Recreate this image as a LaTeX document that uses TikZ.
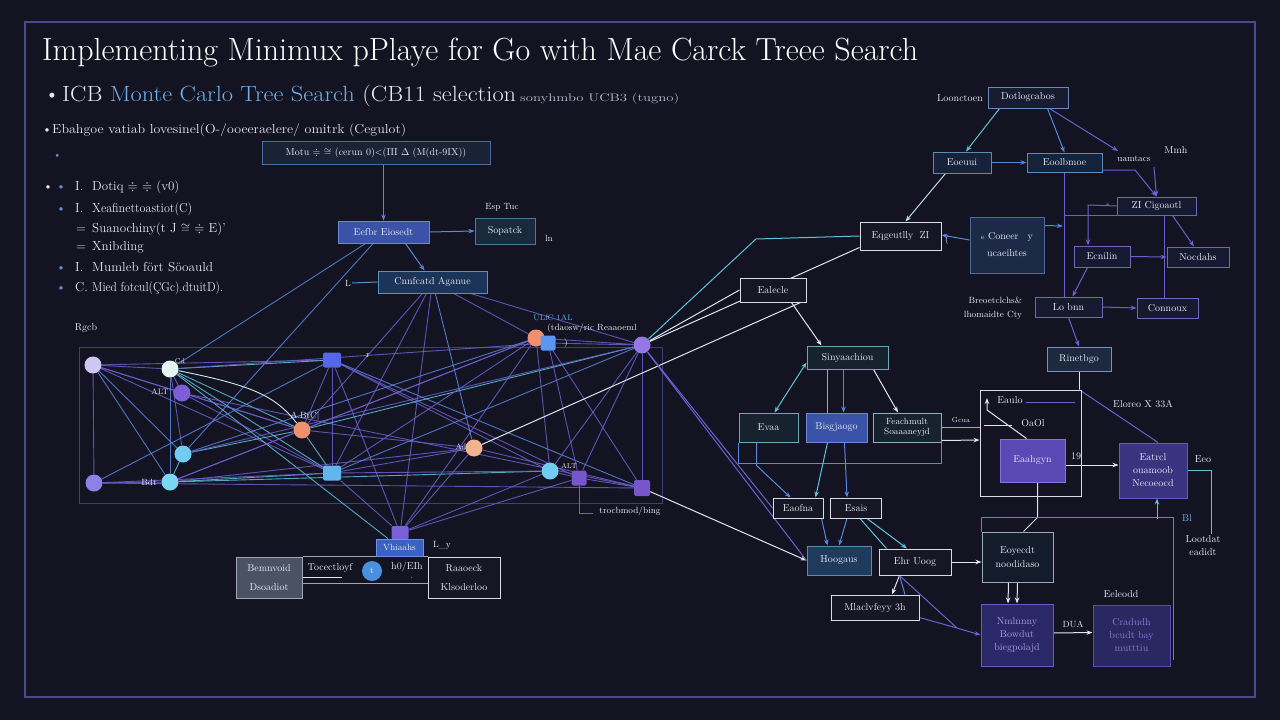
\documentclass[tikz,border=0pt]{standalone}
\usepackage{amssymb}
\usepackage{fontspec}
\usetikzlibrary{arrows.meta,calc}
\pgfdeclarelayer{back}
\pgfdeclarelayer{edges}
\pgfsetlayers{back,edges,main}
\definecolor{bg}{HTML}{131322}
\definecolor{frame}{HTML}{4A4A8C}
\definecolor{cTx}{HTML}{E6E8F0}
\definecolor{cTitleB}{HTML}{6FB0E8}
\definecolor{cGrT}{HTML}{B8BCCC}
\definecolor{cPl}{HTML}{6E5FD0}
\definecolor{cBl}{HTML}{5A86E0}
\definecolor{cCy}{HTML}{5CC4DA}
\definecolor{cWh}{HTML}{DDE8F0}
\definecolor{cGr}{HTML}{A0A6B4}
\definecolor{cDot}{HTML}{6A8AD0}
\definecolor{cTeal}{HTML}{5A8AA8}
% node colours
\definecolor{nA}{HTML}{CFC6F2}
\definecolor{nB}{HTML}{E4F7EE}
\definecolor{nC}{HTML}{7A5FD6}
\definecolor{nD}{HTML}{5666E6}
\definecolor{nE}{HTML}{F0906E}
\definecolor{nF}{HTML}{72CBF0}
\definecolor{nG}{HTML}{7AD6F2}
\definecolor{nH}{HTML}{8C82E6}
\definecolor{nI}{HTML}{62B6F0}
\definecolor{nJ}{HTML}{F2B48E}
\definecolor{nL}{HTML}{5A96F2}
\definecolor{nM}{HTML}{9478E6}
\definecolor{nO}{HTML}{7656C8}
% box colours
\definecolor{dk}{HTML}{161624}
\definecolor{motuD}{HTML}{4C6C9C}\definecolor{motuF}{HTML}{1A2236}
\definecolor{eefD}{HTML}{6C86E0}\definecolor{eefF}{HTML}{3A52A8}
\definecolor{sopD}{HTML}{4A7A9A}\definecolor{sopF}{HTML}{182A3C}
\definecolor{cnnD}{HTML}{5A90C8}\definecolor{cnnF}{HTML}{1C3458}
\definecolor{vhiD}{HTML}{6A90E8}\definecolor{vhiF}{HTML}{3A62C4}
\definecolor{bemD}{HTML}{A0A6B4}\definecolor{bemF}{HTML}{4A5264}
\definecolor{whD}{HTML}{D8DCE4}
\definecolor{dotD}{HTML}{6A8AB8}\definecolor{dotF}{HTML}{181C30}
\definecolor{eoeD}{HTML}{5A8AB8}\definecolor{eoeF}{HTML}{16223A}
\definecolor{vioD}{HTML}{6A6AB8}\definecolor{vioF}{HTML}{161A30}
\definecolor{conD}{HTML}{4A6A9A}\definecolor{conF}{HTML}{1C2A48}
\definecolor{rinD}{HTML}{6A9AB8}\definecolor{rinF}{HTML}{1C2A40}
\definecolor{sinD}{HTML}{6AAAB8}\definecolor{sinF}{HTML}{16222E}
\definecolor{feaD}{HTML}{8AB0B8}
\definecolor{hooD}{HTML}{5A8AB8}\definecolor{hooF}{HTML}{1E3A5C}
\definecolor{eoyD}{HTML}{9AAAB8}\definecolor{eoyF}{HTML}{141C2C}
\definecolor{nmlD}{HTML}{6A58C8}\definecolor{nmlF}{HTML}{2A2866}\definecolor{nmlT}{HTML}{A89EE8}
\definecolor{craD}{HTML}{5A4AB8}\definecolor{craF}{HTML}{2A2860}\definecolor{craT}{HTML}{8A7AE0}
\definecolor{eahD}{HTML}{8A70E0}\definecolor{eahF}{HTML}{5A48B4}
\definecolor{eatD}{HTML}{6A58C8}\definecolor{eatF}{HTML}{3A3480}
\definecolor{circB}{HTML}{4A90E0}
\newcommand{\fitw}[2]{\resizebox{#1}{\height}{#2}}
\begin{document}
\begin{tikzpicture}[x=1pt,y=-1pt,
  bx/.style={draw, line width=1pt, inner sep=1pt, text=cTx, font=\fontsize{10}{11.5}\selectfont, align=center},
  lbl/.style={text=cTx, font=\fontsize{9}{10}\selectfont, inner sep=0pt, align=center},
  ar/.style={-{Stealth[length=6pt,width=4.5pt]}, line width=1pt},
  ln/.style={line width=1pt},
  nd/.style={circle, minimum size=17pt, inner sep=0pt},
  sq/.style={rectangle, rounded corners=2pt, minimum width=18pt, minimum height=15pt, inner sep=0pt},
  txt/.style={anchor=base west, text=cTx, inner sep=0pt},
]
\useasboundingbox (0,0) rectangle (1280,720);
\begin{pgfonlayer}{back}
\fill[bg] (0,0) rectangle (1280,720);
\draw[frame, line width=1.5pt] (25,22) rectangle (1255,697);
\draw[frame!80!bg, line width=1pt] (79,347) rectangle (662,503);
\end{pgfonlayer}

% ---------- header text ----------
\node[txt, text=white, font=\fontsize{32}{36}\selectfont] (title) at (42,60) {\fitw{876pt}{Implementing Minimux pPlaye for Go with Mae Carck Treee Search}};
\node[txt, font=\fontsize{22}{26}\selectfont] (b1) at (44,101) {\textbullet};
\node[txt, font=\fontsize{22}{26}\selectfont] (sub) at (62,101) {\fitw{454pt}{ICB \textcolor{cTitleB}{Monte Carlo Tree Search} (CB11 selection}};
\node[txt, text=cGrT, font=\fontsize{11}{12}\selectfont] (sub2) at (520,101) {\fitw{159pt}{sonyhmbo UCB3 (tugno)}};
\node[txt, font=\fontsize{13}{14}\selectfont] (b2) at (42,133) {\textbullet};
\node[txt, font=\fontsize{13}{14}\selectfont] (l3) at (52,133) {\fitw{354pt}{Ebahgoe vatiab lovesinel(O-/ooeeraelere/ omitrk (Cegulot)}};
\node[txt, text=cDot, font=\fontsize{11}{12}\selectfont] (b3) at (53,158) {\textbullet};

% ---------- left list ----------
\begin{scope}[every node/.style={txt, font=\fontsize{13}{14}\selectfont}]
\node (lb1) at (43,190) {\textbullet};
\node[text=cDot] (lb2) at (56,190) {\textbullet};
\node (ln1) at (75,190) {I.};
\node (lt1) at (92,190) {Dotiq $\doteqdot$ $\doteqdot$ (v0)};
\node[text=cDot] (lb3) at (56,212) {\textbullet};
\node (ln2) at (75,212) {I.};
\node (lt2) at (92,212) {\fitw{100pt}{Xeafinettoastiot(C)}};
\node (ln3) at (76,232) {=};
\node (lt3) at (92,232) {Suanochiny(t J $\cong$ $\doteqdot$ E)'};
\node (ln4) at (76,250) {=};
\node (lt4) at (92,250) {Xnibding};
\node[text=cDot] (lb5) at (56,271) {\textbullet};
\node (ln5) at (75,271) {I.};
\node (lt5) at (92,271) {\fitw{121pt}{Mumleb fört Söoauld}};
\node[text=cDot] (lb6) at (56,291) {\textbullet};
\node (ln6) at (75,291) {C.};
\node (lt6) at (92,291) {\fitw{131pt}{Mied fotcul(ÇGc).dtuitD).}};
\end{scope}
\node[lbl, font=\fontsize{10}{11}\selectfont] (rgcb) at (86,328) {Rgcb};

% ---------- top-middle boxes ----------
\node[bx, draw=motuD, fill=motuF, minimum width=228pt, minimum height=23pt] (motu) at (376,152.5) {Motu $\doteqdot$ $\cong$ (cerun 0)<($\Pi$I $\Delta$ (M(dt-9IX))};
\node[bx, draw=eefD, fill=eefF, minimum width=91pt, minimum height=22pt] (eefbr) at (383.5,232) {Eefbr Eiosedt};
\node[bx, draw=sopD, fill=sopF, minimum width=60pt, minimum height=26pt] (sopat) at (505,231) {Sopatck};
\node[lbl] (esp) at (502,207) {Esp Tuc};
\node[lbl] (lnl) at (549,238) {ln};
\node[bx, draw=cnnD, fill=cnnF, minimum width=109pt, minimum height=22pt] (cnnf) at (432.5,282) {Cnnfcatd Aganue};
\node[lbl] (lL) at (348,283) {L};
\coordinate (Lc) at (352,283);

% ---------- network nodes ----------
\node[nd, fill=nA] (A) at (93,365) {};
\node[nd, fill=nB] (B) at (170,369) {};
\node[nd, fill=nC] (C) at (182,393) {};
\node[sq, fill=nD] (D) at (332,360) {};
\node[nd, fill=nE] (E) at (302,430) {};
\node[nd, fill=nF] (F) at (183,454) {};
\node[nd, fill=nG] (G) at (170,482) {};
\node[nd, fill=nH] (H) at (94,483) {};
\node[sq, fill=nI] (I) at (332,473) {};
\node[nd, fill=nJ] (J) at (474,448) {};
\node[nd, fill=nE] (K) at (536,338) {};
\node[sq, fill=nL, minimum width=15pt] (L) at (548,343) {};
\node[nd, fill=nM] (M) at (642,345) {};
\node[nd, fill=nF] (N) at (550,471) {};
\node[sq, fill=nO, minimum width=15pt] (O) at (579,478) {};
\node[sq, fill=nO, minimum width=16pt, minimum height=16pt] (P) at (642,488) {};
\node[sq, fill=nC, minimum width=17pt, minimum height=14pt] (Q) at (400,533) {};

\node[lbl, font=\fontsize{7}{8}\selectfont] (lCd) at (180,361) {Cd};
\node[lbl, font=\fontsize{8}{9}\selectfont] (lALT) at (160,392) {ALT};
\node[lbl, font=\fontsize{9}{10}\selectfont] (lBdt) at (149,482) {Bdt};
\node[lbl, font=\fontsize{9}{10}\selectfont] (lAB) at (305,416) {A.BtC|};
\node[lbl, font=\fontsize{8}{9}\selectfont] (lAd) at (461,447) {Ad};
\node[lbl, font=\fontsize{7}{8}\selectfont] (lALT2) at (569,466) {ALT};
\node[lbl, font=\fontsize{8}{9}\selectfont, text=cTitleB] (lUL) at (553,318) {ULfC 1AL};
\node[lbl, font=\fontsize{9}{10}\selectfont] (lTd) at (592,328) {(tdaosw/ric Reaaoeml};
\node[lbl] (lpar) at (566,343) {)};
\node[lbl] (lr) at (368,356) {r};
\node[lbl, font=\fontsize{9}{10}\selectfont] (ltroc) at (630,511) {trocbmod/bing};
\coordinate (trc) at (593,513);

% ---------- bottom-left boxes ----------
\node[bx, draw=vhiD, fill=vhiF, minimum width=47pt, minimum height=17pt, font=\fontsize{9}{10}\selectfont] (vhia) at (399.5,547.5) {Vhiaahs};
\node[bx, draw=bemD, fill=bemF, minimum width=66pt, minimum height=41pt, font=\fontsize{10}{19}\selectfont] (bemn) at (269,577.5) {Bemnvoid\\Dsoadiot};
\node[bx, draw=whD, fill=dk, minimum width=72pt, minimum height=41pt, font=\fontsize{10}{19}\selectfont] (raao) at (464,577.5) {Raaoeck\\Klsoderloo};
\node[circle, fill=circB, minimum size=20pt, inner sep=0pt, text=cTx, font=\fontsize{9}{10}\selectfont] (tc) at (372,571) {t};
\node[lbl, font=\fontsize{10}{11}\selectfont] (toc) at (330,568) {Tocectloyf};
\node[lbl, font=\fontsize{10}{11}\selectfont] (hoe) at (407,567) {h0/EIh};
\node[lbl] (dotm) at (412,578) {.};
\node[lbl, font=\fontsize{9}{10}\selectfont] (lly) at (442,545) {L\_y};

% ---------- right flowchart ----------
\node[draw=whD, line width=0.9pt, minimum width=101pt, minimum height=106pt, inner sep=0pt] (bigr) at (1030.5,443) {};
\node[bx, draw=dotD, fill=dotF, minimum width=80pt, minimum height=21pt] (dotl) at (1028,97.5) {Dotlogcabos};
\node[lbl, font=\fontsize{10}{11}\selectfont] (loon) at (960,98) {Loonctoen};
\node[bx, draw=eoeD, fill=eoeF, minimum width=58pt, minimum height=21pt] (eoeu) at (962,162.5) {Eoeuui};
\node[bx, draw=eoeD, fill=eoeF, minimum width=75pt, minimum height=19pt] (eool) at (1064.5,162.5) {Eoolbmoe};
\node[lbl] (uam) at (1134,159) {uamtacs};
\node[lbl, font=\fontsize{10}{11}\selectfont] (mmh) at (1176,150) {Mmh};
\node[bx, draw=vioD, fill=vioF, minimum width=79pt, minimum height=18pt] (zicig) at (1156.5,206) {ZI Cigoaotl};
\node[lbl] (zpre) at (1108,205) {-};
\node[bx, draw=whD, fill=dk, minimum width=81pt, minimum height=28pt] (eqge) at (900.5,236) {Eqgeutlly\; ZI};
\node[bx, draw=conD, fill=conF, minimum width=74pt, minimum height=56pt, font=\fontsize{10}{17}\selectfont] (cone) at (1007,245) {{\fontsize{7}{8}\selectfont e} Coneer\;\; y\\ucaeihtes};
\node[lbl] (cpre) at (947,240) {(};
\node[bx, draw=vioD, fill=vioF, minimum width=56pt, minimum height=21pt] (ecni) at (1102,256.5) {Ecnilin};
\node[bx, draw=vioD, fill=vioF, minimum width=62pt, minimum height=20pt] (nocd) at (1198,257) {Nocdahs};
\node[bx, draw=vioD, fill=vioF, minimum width=67pt, minimum height=20pt] (lobn) at (1068.5,307) {Lo bnn};
\node[bx, draw=vioD, fill=vioF, minimum width=61pt, minimum height=20pt] (conn) at (1167.5,308) {Connoux};
\node[lbl, font=\fontsize{9}{14}\selectfont, align=right] (breo) at (993,308) {Breoetclchs\&\\lhomaidte Cty};
\node[bx, draw=rinD, fill=rinF, minimum width=64pt, minimum height=24pt] (rine) at (1079,359) {Rinetbgo};
\node[bx, draw=whD, fill=dk, minimum width=66pt, minimum height=24pt] (eale) at (773,290) {Ealecle};
\node[bx, draw=sinD, fill=sinF, minimum width=81pt, minimum height=23pt] (siny) at (847.5,357.5) {Sinyaachiou};
\node[bx, draw=sinD, fill=sinF, minimum width=59pt, minimum height=29pt] (evaa) at (768.5,427.5) {Evaa};
\node[bx, draw=eefD, fill=eefF, minimum width=61pt, minimum height=29pt] (bisg) at (836.5,427.5) {Bisgjaogo};
\node[bx, draw=feaD, fill=sinF, minimum width=68pt, minimum height=29pt, font=\fontsize{9}{10}\selectfont] (feac) at (907,427.5) {Feachmult\\Soaaaneyjd};
\node[lbl, font=\fontsize{7}{8}\selectfont] (gcua) at (961,420) {Gcua};
\node[bx, draw=whD, fill=dk, minimum width=50pt, minimum height=20pt] (eaof) at (798,508) {Eaofna};
\node[bx, draw=whD, fill=dk, minimum width=51pt, minimum height=20pt] (esai) at (856,508) {Esais};
\node[bx, draw=hooD, fill=hooF, minimum width=64pt, minimum height=29pt] (hoog) at (839,560.5) {Hoogaus};
\node[bx, draw=whD, fill=dk, minimum width=72pt, minimum height=26pt] (ehru) at (915,562) {Ehr Uoog};
\node[bx, draw=whD, fill=dk, minimum width=88pt, minimum height=25pt] (mlac) at (875,607.5) {Mlaclvfeyy 3h};
\node[bx, draw=eoyD, fill=eoyF, minimum width=71pt, minimum height=50pt, font=\fontsize{10}{14}\selectfont] (eoye) at (1017.5,557) {Eoyecdt\\noodidaso};
\node[bx, draw=nmlD, fill=nmlF, text=nmlT, minimum width=72pt, minimum height=62pt, font=\fontsize{10}{13}\selectfont] (nmln) at (1017,635) {Nmlnnny\\Bowdut\\biegpolajd};
\node[bx, draw=craD, fill=craF, text=craT, minimum width=77pt, minimum height=61pt, font=\fontsize{10}{13}\selectfont] (crad) at (1131.5,635.5) {Cradudh\\bcudt bay\\mutttiu};
\node[lbl, font=\fontsize{10}{11}\selectfont] (eeleo) at (1121,594) {Eeleodd};
\node[lbl] (dua) at (1073,624) {DUA};
\node[bx, draw=eahD, fill=eahF, minimum width=65pt, minimum height=43pt] (eaah) at (1032.5,460.5) {Eaahgyn};
\node[bx, draw=eatD, fill=eatF, minimum width=68pt, minimum height=55pt, font=\fontsize{10}{13}\selectfont] (eatr) at (1153,470.5) {Eatrcl\\ouamoob\\Necoeocd};
\node[lbl, font=\fontsize{10}{11}\selectfont] (eaulo) at (1010,400) {Eaulo};
\node[lbl, font=\fontsize{10}{11}\selectfont] (oaol) at (1033,423) {OaOl};
\node[lbl, font=\fontsize{10}{11}\selectfont] (elo) at (1143,404) {Eloreo X 33A};
\node[lbl, font=\fontsize{10}{11}\selectfont] (n19) at (1076,456) {19};
\node[lbl, font=\fontsize{10}{11}\selectfont] (eeo) at (1203,459) {Eeo};
\node[lbl, font=\fontsize{10}{11}\selectfont, text=cTitleB] (bl) at (1187,518) {Bl};
\node[lbl, font=\fontsize{10}{13}\selectfont] (loot) at (1203,546) {Lootdat\\eadidt};

% named helper coordinates
\coordinate (um) at (1118,151);
\coordinate (um2) at (1154,167);
\coordinate (bnd1) at (1135,170);
\coordinate (zl) at (1088,205);
\coordinate (zv) at (1164,215);
\coordinate (vx) at (1063,226);
\coordinate (cyb) at (756,239);
\coordinate (oa1) at (984,425);
\coordinate (oa2) at (1012,425);
\coordinate (ea1) at (987,410);
\coordinate (ea2) at (987,398);
\coordinate (eal1) at (1026,402);
\coordinate (eal2) at (1075,402);
\coordinate (mj) at (957,628);

% ---------- connectors ----------
\begin{pgfonlayer}{edges}
% network web
\foreach \p/\q/\s in {A/B/cPl, A/C/cPl, A/D/cPl, A/F/cBl, A/G/cBl, A/H/cPl, A/E/cPl, A/I/cPl,
  B/C/cPl, B/E/cCy, B/G/cBl, B/D/cCy, B/I/cCy, B/L/cPl, B/F/cPl, B/vhia/cCy,
  C/E/cPl, C/I/cPl, C/P/cPl,
  D/I/cPl, D/E/cPl, D/N/cPl, D/P/cBl, D/O/cPl, D/Q/cPl,
  E/F/cCy, E/I/cCy, E/K/cPl, E/M/cCy, E/G/cPl, E/J/cPl,
  F/G/cCy, F/K/cBl, F/M/cPl,
  G/H/cPl, G/I/cCy, G/K/cPl, G/N/cCy, G/J/cPl,
  H/D/cBl, H/I/cPl, H/P/cPl,
  I/J/cPl, I/N/cPl, I/M/cBl, I/Q/cPl,
  J/P/cPl, J/Q/cPl,
  K/L/cPl, K/N/cPl, K/I/cPl, K/Q/cPl, K/M/cPl,
  L/M/cPl, L/O/cPl, L/P/cPl,
  M/N/cPl, M/P/cPl, M/O/cPl,
  N/O/cPl, O/P/cPl, N/Q/cPl, O/Q/cPl,
  cnnf/E/cPl, cnnf/I/cPl, cnnf/M/cPl, cnnf/Q/cPl, cnnf/K/cPl, cnnf/J/cBl,
  eefbr/B/cBl, eefbr/F/cBl}
  { \draw[draw=\s, line width=0.9pt, opacity=0.85] (\p) -- (\q); }
\draw[nB!80!cCy, line width=0.9pt] (B) .. controls (250,385) and (275,395) .. (E);
\draw[cPl, line width=0.9pt] (O) |- (trc);

% top middle
\draw[ar, cBl] (eefbr.north |- motu.south) -- (eefbr.north);
\draw[ar, cBl] (eefbr.east) -- (sopat.west);
\draw[ar, cBl] ($(eefbr.south)+(22,0)$) -- ($(cnnf.north)+(-8,0)$);
\draw[ln, cnnD] (Lc) -- (cnnf.west);

% bottom left
\draw[ln, cGr] (bemn.north east) -- (raao.north west);
\draw[ln, cGr] ($(bemn.east)+(0,5.5)$) -- ($(raao.west)+(0,5.5)$);
\draw[ln, cWh] (bemn.east) -- ++(39,0);

% network to right flow
\draw[ln, cCy] (eqge.west) -- (cyb) -- (M);
\draw[ln, cWh] (M) -- (eale.west);
\draw[ln, cWh] (M) -- ($(eqge.south west)+(0,-3)$);
\draw[ln, cWh] (J) -- ($(eale.south east)+(-6,0)$);
\draw[ar, cWh] (P) -- (hoog.west);
\draw[ln, cPl] (M) -- (hoog.west);
\draw[ln, cPl] (M) -- (eaof.west);

% top right
\draw[ar, cCy] ($(dotl.south west)+(12,0)$) -- ($(eoeu.north)+(4,0)$);
\draw[ar, cBl] ($(dotl.south west)+(60,0)$) -- (eool.north);
\draw[ar, cPl] ($(dotl.south west)+(62,0)$) -- (um);
\draw[ar, cBl] (eoeu.east) -- (eool.west);
\draw[ar, cWh!70!cCy] ($(eoeu.south west)+(13,0)$) -- ($(eqge.north)+(5,0)$);
\draw[ar, cBl] ($(cone.west)+(0,-5)$) -- ($(eqge.east)+(0,-1)$);
\draw[ar, cBl] ($(cone.north east)+(0,9)$) -- (vx);
\draw[ln, cPl] (eool.south) -- (eool.south |- lobn.north);
\draw[ln, cPl] (eool.south |- zicig.south west) -- (zicig.south west);
\draw[ar, cPl] (zicig.west) -- (zl) -- (zl |- ecni.north);
\draw[ar, cPl] ($(zicig.south east)+(-24,0)$) -- ($(nocd.north)+(-4,0)$);
\draw[ln, cPl] (zv) -- (zv |- conn.north);
\draw[ar, cPl] (eool.east |- bnd1) -- (bnd1) -- ($(zicig.north west)+(40,0)$);
\draw[ar, cPl] (um2) -- ($(zicig.north west)+(40,0)$);
\draw[ar, cPl] (ecni.east) -- (nocd.west);
\draw[ar, cPl] ($(ecni.south west)+(14,0)$) -- ($(lobn.north)+(4,0)$);
\draw[ar, cPl] (lobn.east) -- (conn.west);
\draw[ar, cPl] (lobn.south) -- (rine.north);

% middle right
\draw[ar, cWh] ($(eale.south east)+(-15,0)$) -- ($(siny.north west)+(15,0)$);
\draw[{Stealth[length=6pt,width=4.5pt]}-{Stealth[length=6pt,width=4.5pt]}, line width=1pt, cCy] ($(siny.south west)+(0,-7)$) -- ($(evaa.north)+(6,0)$);
\coordinate (s1) at ($(siny.south west)+(21,0)$);
\coordinate (s2) at ($(siny.south west)+(37,0)$);
\draw[ln, cCy] (s1) -- (s1 |- bisg.north);
\draw[ar, cBl] (s2) -- (s2 |- bisg.north);
\draw[ar, cWh] ($(siny.south east)+(-15,0)$) -- ($(feac.north)+(-9,0)$);
\draw[ln, cBl] (evaa.south west) -- ($(evaa.south west)+(0,21)$) -| (feac.south east);
\draw[ar, cWh] ($(feac.south east)+(0,-2)$) -- ($(bigr.west)+(0,-3)$);
\draw[ln, cCy] (feac.east) -- (feac.east -| bigr.west);
\draw[ln, cWh] (oa1) -- (oa2);
\draw[ar, cWh] ($(eaah.north)+(-6,0)$) -- (ea1) -- (ea2);
\draw[ln, cPl] (eal1) -- (eal2);
\draw[ln, cWh] (rine.south) -- (rine.south |- bigr.north);
\draw[ln, cPl] (rine.south |- bigr.north) -- ($(eatr.north)+(5,0)$);
\draw[ar, cWh] ($(eaah.east)+(0,4.5)$) -- ($(eatr.west)+(0,-5.5)$);
\draw[ln, cWh] ($(eaah.south)+(5,0)$) -- ++(0,35) -- ($(eoye.north)+(6,0)$);
\draw[ln, cTeal] (eoye.north west) -- ++(0,-14) -- ++(192,0) -- ++(0,142);
\draw[ar, cCy] ($(eatr.south)+(4,20)$) -- ($(eatr.south)+(4,0)$);
\draw[ln, cCy] (eatr.east) -- ++(24,0) -- ++(0,63);

% lower right
\draw[ar, cBl] ($(evaa.south)+(-12,0)$) -- ++(0,23) -- ($(eaof.north west)+(18,0)$);
\draw[ar, cCy] ($(bisg.south west)+(22,0)$) -- ($(eaof.north east)+(-8,0)$);
\draw[ar, cBl] ($(bisg.south)+(8,0)$) -- ($(esai.north)+(-9,0)$);
\draw[ar, cBl] ($(eaof.south east)+(-2,0)$) -- ($(hoog.north west)+(21,0)$);
\draw[ar, cBl] ($(esai.south)+(-9,0)$) -- (hoog.north);
\draw[ln, cCy] ($(esai.south)+(4,0)$) -- ($(ehru.north west)+(8,0)$);
\draw[ar, cCy] ($(esai.south)+(11,0)$) -- ($(ehru.north)+(-8,0)$);
\draw[ar, cWh] (ehru.east) -- (ehru.east -| eoye.west);
\draw[ar, cWh] ($(ehru.south west)+(21,0)$) -- ($(mlac.north)+(17,0)$);
\draw[ln, cBl] ($(ehru.south west)+(21,0)$) -- ($(mlac.north)+(30,0)$);
\draw[ar, cPl] ($(ehru.south west)+(21,0)$) -- (mj) -- (nmln.west);
\draw[ln, cPl] ($(mlac.south east)+(0,-3)$) -- (mj);
\draw[ar, cWh] ($(eoye.south)+(-9,0)$) -- ($(nmln.north)+(-9,0)$);
\draw[ar, cWh] (eoye.south) -- (nmln.north);
\draw[ar, cWh] ($(nmln.east)+(0,-2)$) -- ($(crad.west)+(0,-3)$);
\end{pgfonlayer}
\end{tikzpicture}
\end{document}
